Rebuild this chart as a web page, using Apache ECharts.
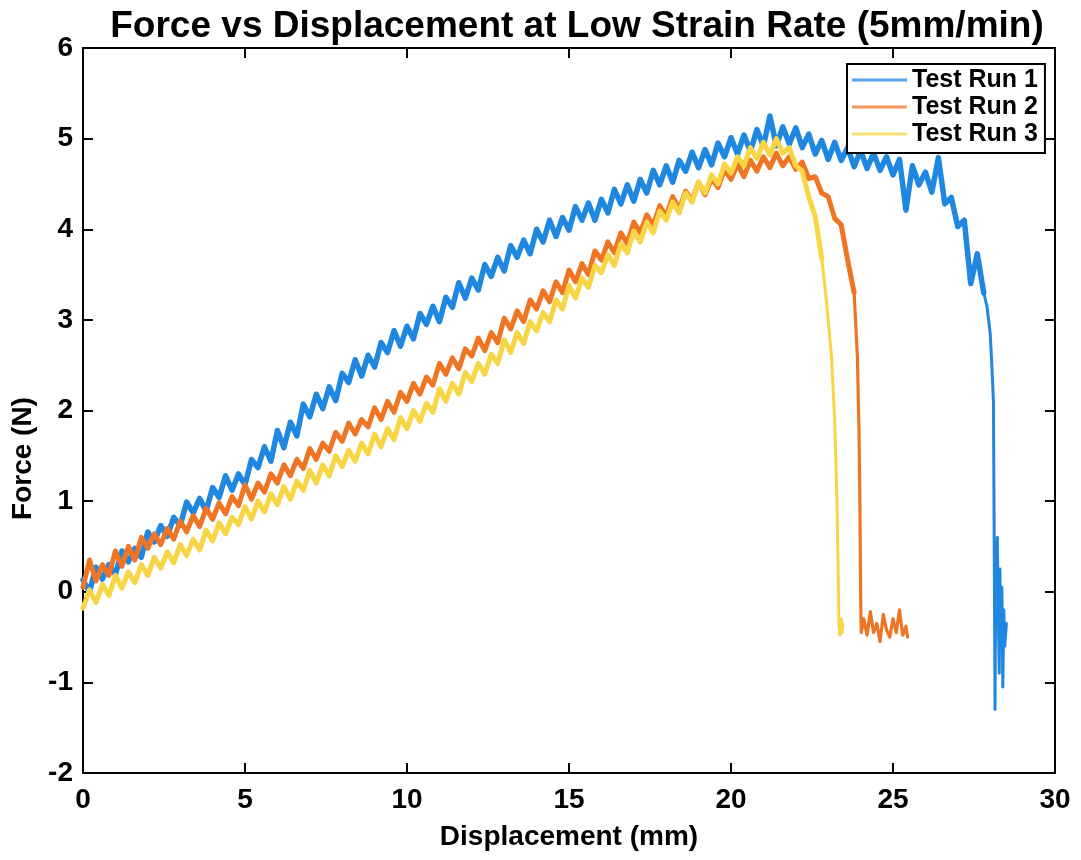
<!DOCTYPE html>
<html>
<head>
<meta charset="utf-8">
<script src="https://cdn.jsdelivr.net/npm/echarts@6/dist/echarts.min.js"></script>
<style>
html,body{margin:0;padding:0;background:#fff;}
#chart{width:1081px;height:860px;}
</style>
</head>
<body>
<div id="chart"></div>
<script>
// Displacement sampling step (mm) for the main part of every run
const step = 0.2;
const seriesNames = ['Test Run 1', 'Test Run 2', 'Test Run 3'];
const xTicks = [0, 5, 10, 15, 20, 25, 30];
const yTicks = [-2, -1, 0, 1, 2, 3, 4, 5, 6];

// Test Run 1: force (N) at displacement 0, 0.2, ... 27.8 mm
const run1Y = [
  0.13,0.00,0.27,0.14,0.30,0.19,0.45,0.33,0.48,0.38,
  0.66,0.55,0.73,0.61,0.82,0.73,0.99,0.87,1.03,0.89,
  1.15,1.04,1.28,1.12,1.30,1.18,1.46,1.37,1.60,1.44,
  1.78,1.59,1.87,1.72,2.07,1.93,2.18,2.02,2.26,2.11,
  2.41,2.31,2.56,2.38,2.61,2.48,2.75,2.64,2.88,2.71,
  2.93,2.79,3.07,2.95,3.15,2.98,3.25,3.14,3.41,3.24,
  3.46,3.33,3.61,3.48,3.69,3.54,3.82,3.69,3.88,3.73,
  4.00,3.86,4.10,3.92,4.13,3.99,4.25,4.10,4.29,4.10,
  4.33,4.18,4.44,4.28,4.49,4.31,4.55,4.40,4.65,4.49,
  4.70,4.52,4.76,4.64,4.85,4.68,4.88,4.71,4.95,4.80,
  5.01,4.83,5.04,4.86,5.10,4.92,5.25,4.92,5.13,4.94,
  5.12,4.90,5.05,4.83,4.98,4.77,4.96,4.76,4.90,4.69,
  4.87,4.67,4.84,4.65,4.80,4.60,4.77,4.21,4.70,4.49,
  4.63,4.41,4.79,4.28,4.35,4.03,4.10,3.40,3.73,3.30
];
// Test Run 1 failure part
const run1TailX = [27.9,28.0,28.05,28.1,28.12,28.14,28.15,28.17,28.2,28.22,28.25,28.28,28.3,28.33,28.36,28.39,28.42,28.45,28.5];
const run1TailY = [3.15,2.85,2.5,2.1,0.8,-0.6,-1.3,0.4,-0.4,0.6,-0.3,-0.9,0.25,-0.5,0.05,-1.05,-0.2,-0.6,-0.35];

// Test Run 2: force at displacement 0 ... 23.8 mm
const run2Y = [
  0.05,0.35,0.12,0.30,0.18,0.45,0.28,0.50,0.35,0.60,
  0.48,0.64,0.52,0.70,0.58,0.78,0.66,0.84,0.72,0.92,
  0.80,0.98,0.86,1.05,0.95,1.18,1.02,1.20,1.10,1.30,
  1.20,1.40,1.28,1.46,1.36,1.58,1.46,1.64,1.55,1.76,
  1.66,1.86,1.74,1.90,1.82,2.03,1.90,2.10,1.98,2.20,
  2.10,2.30,2.18,2.37,2.28,2.52,2.40,2.58,2.46,2.68,
  2.60,2.80,2.66,2.86,2.75,3.02,2.90,3.10,2.98,3.22,
  3.12,3.32,3.20,3.42,3.30,3.55,3.42,3.62,3.50,3.76,
  3.66,3.86,3.74,3.96,3.84,4.08,3.96,4.16,4.04,4.26,
  4.14,4.36,4.22,4.42,4.32,4.52,4.38,4.56,4.46,4.66,
  4.55,4.72,4.58,4.76,4.64,4.80,4.68,4.84,4.70,4.80,
  4.66,4.74,4.56,4.58,4.40,4.36,4.12,4.05,3.66,3.30
];
const run2TailX = [23.9,23.95,23.98,24.0,24.02,24.1,24.2,24.3,24.4,24.5,24.6,24.7,24.8,24.9,25.0,25.1,25.2,25.3,25.4,25.45];
const run2TailY = [2.6,1.8,0.9,0.0,-0.45,-0.30,-0.48,-0.22,-0.45,-0.35,-0.55,-0.25,-0.42,-0.50,-0.30,-0.45,-0.20,-0.48,-0.38,-0.50];

// Test Run 3: force at displacement 0 ... 22.8 mm
const run3Y = [
  -0.18,0.02,-0.12,0.08,-0.04,0.18,0.04,0.22,0.10,0.30,
  0.18,0.38,0.26,0.44,0.32,0.52,0.40,0.58,0.46,0.68,
  0.56,0.76,0.64,0.82,0.74,0.94,0.80,1.00,0.88,1.08,
  0.96,1.16,1.02,1.22,1.12,1.34,1.20,1.40,1.28,1.50,
  1.38,1.56,1.44,1.64,1.52,1.74,1.60,1.80,1.68,1.92,
  1.80,2.00,1.88,2.08,1.98,2.24,2.10,2.30,2.18,2.42,
  2.32,2.52,2.40,2.62,2.52,2.78,2.64,2.86,2.74,2.98,
  2.88,3.08,2.98,3.22,3.12,3.38,3.24,3.46,3.36,3.60,
  3.52,3.72,3.60,3.84,3.74,3.98,3.86,4.08,3.96,4.20,
  4.10,4.30,4.18,4.40,4.30,4.52,4.40,4.60,4.50,4.72,
  4.62,4.80,4.70,4.90,4.78,4.96,4.82,5.00,4.84,4.90,
  4.70,4.64,4.36,4.14,3.68
];
const run3TailX = [22.95,23.1,23.2,23.27,23.31,23.33,23.36,23.4,23.43,23.45];
const run3TailY = [3.2,2.6,1.9,1.0,0.2,-0.35,-0.48,-0.30,-0.45,-0.35];

const colors = ['#1f87e0', '#ef7524', '#f8d545'];
const bandWidths = [5.5, 5, 5];
const tailWidths = [3, 3.2, 3];

function mainPart(mainY) {
  return mainY.map((y, i) => [Math.round(i * step * 100) / 100, y]);
}
function tailPart(mainY, tailX, tailY) {
  const last = mainY.length - 1;
  const pts = [[Math.round(last * step * 100) / 100, mainY[last]]];
  tailX.forEach((x, i) => pts.push([x, tailY[i]]));
  return pts;
}
const runs = [
  [run1Y, run1TailX, run1TailY],
  [run2Y, run2TailX, run2TailY],
  [run3Y, run3TailX, run3TailY]
];

const FONT = 'Liberation Sans, Arial, sans-serif';
const chart = echarts.init(document.getElementById('chart'), null, {renderer: 'canvas'});

const axisCommon = {
  axisLine: {show: true, onZero: false, lineStyle: {color: '#000', width: 2}},
  axisTick: {show: true, inside: true, length: 10, lineStyle: {color: '#000', width: 2}},
  splitLine: {show: false}
};

const series = [];
runs.forEach((r, i) => {
  series.push({
    name: seriesNames[i], type: 'line', data: mainPart(r[0]),
    symbol: 'none', showSymbol: false,
    lineStyle: {color: colors[i], width: bandWidths[i], join: 'round', cap: 'round'},
    itemStyle: {color: colors[i]}, z: 2 + i
  });
  series.push({
    name: seriesNames[i], type: 'line', data: tailPart(r[0], r[1], r[2]),
    symbol: 'none', showSymbol: false,
    lineStyle: {color: colors[i], width: tailWidths[i], join: 'round', cap: 'round'},
    itemStyle: {color: colors[i]}, z: 2 + i
  });
});

chart.setOption({
  animation: false,
  backgroundColor: '#fff',
  title: {
    text: 'Force vs Displacement at Low Strain Rate (5mm/min)',
    left: 572, top: 3, textAlign: 'center',
    textStyle: {fontFamily: FONT, fontWeight: 'bold', fontSize: 37, color: '#000'}
  },
  grid: {left: 83, right: 26, top: 48, bottom: 87, containLabel: false},
  legend: {
    orient: 'vertical', left: 847, top: 64,
    data: seriesNames.map((n, i) => ({name: n, icon: 'rect', itemStyle: {color: colors[i], opacity: 0.75}})),
    itemWidth: 55, itemHeight: 3, itemGap: 1,
    padding: [3, 7, 6, 5],
    backgroundColor: '#fff',
    borderColor: '#000', borderWidth: 2,
    textStyle: {fontFamily: FONT, fontWeight: 'bold', fontSize: 25, color: '#000', lineHeight: 26, height: 26},
    selectedMode: false
  },
  xAxis: [
    Object.assign({
      type: 'value', min: 0, max: 30, interval: 5, position: 'bottom',
      name: 'Displacement (mm)', nameLocation: 'middle', nameGap: 50,
      nameTextStyle: {fontFamily: FONT, fontWeight: 'bold', fontSize: 28, color: '#000'},
      axisLabel: {fontFamily: FONT, fontWeight: 'bold', fontSize: 28, color: '#000', margin: 13,
        formatter: v => xTicks.indexOf(v) >= 0 ? String(v) : ''}
    }, axisCommon),
    Object.assign({
      type: 'value', min: 0, max: 30, interval: 5, position: 'top',
      axisLabel: {show: false}
    }, axisCommon)
  ],
  yAxis: [
    Object.assign({
      type: 'value', min: -2, max: 6, interval: 1, position: 'left',
      name: 'Force (N)', nameLocation: 'middle', nameGap: 42,
      nameTextStyle: {fontFamily: FONT, fontWeight: 'bold', fontSize: 28, color: '#000', padding: [0, 96, 0, 0]},
      axisLabel: {fontFamily: FONT, fontWeight: 'bold', fontSize: 28, color: '#000', margin: 10,
        formatter: v => yTicks.indexOf(v) >= 0 ? String(v) : ''}
    }, axisCommon),
    Object.assign({
      type: 'value', min: -2, max: 6, interval: 1, position: 'right',
      axisLabel: {show: false}
    }, axisCommon)
  ],
  series: series
});
</script>
</body>
</html>
